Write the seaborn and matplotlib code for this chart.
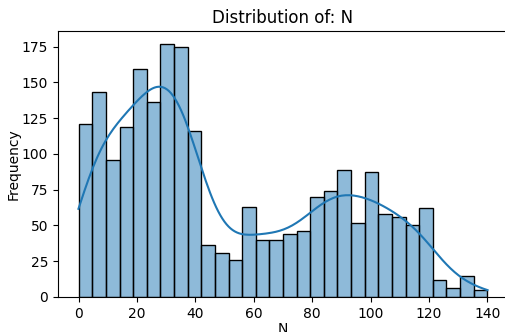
import numpy as np
import pandas as pd
import seaborn as sns
import matplotlib
matplotlib.use("Agg")
import matplotlib.pyplot as plt

bin_lo = 0
bin_hi = 140
n_bins = 30
counts = [121, 143, 96, 119, 159, 136, 177, 175, 116, 36,
          31, 26, 63, 40, 40, 44, 46, 70, 74, 89,
          52, 87, 58, 56, 50, 62, 12, 6, 15, 5]

edges = np.linspace(bin_lo, bin_hi, n_bins + 1)
centers = (edges[:-1] + edges[1:]) / 2
df = pd.DataFrame({'N': centers, 'count': counts})

fig = plt.figure(figsize=(5.05, 3.32), dpi=100)
ax = fig.add_axes([58 / 505, 35 / 332, 450 / 505, 266 / 332])

sns.histplot(data=df, x='N', weights='count', bins=n_bins, binrange=(bin_lo, bin_hi),
             kde=True, kde_kws={'bw_adjust': 0.39, 'cut': 0.3}, ax=ax)
ax.set_title('Distribution of: N')
ax.set_xlabel('N', labelpad=1)
ax.set_ylabel('Frequency', labelpad=1)
ax.set_xticks(range(0, 141, 20))

fig.savefig('out.png', dpi=100)
